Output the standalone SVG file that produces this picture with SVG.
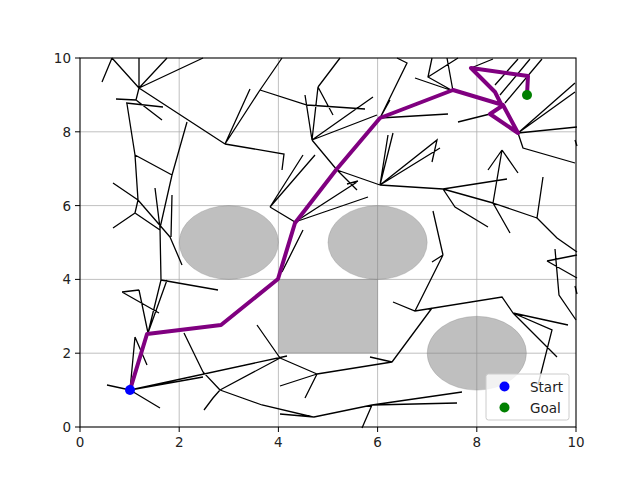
<svg xmlns="http://www.w3.org/2000/svg" width="640" height="480" viewBox="0 0 640 480">
<style>
.grid{stroke:#b0b0b0;stroke-width:0.8;fill:none}
.obs{fill:#808080;fill-opacity:0.5;stroke:#808080;stroke-opacity:0.3;stroke-width:1}
.tree{stroke:#000;stroke-width:1.3;fill:none;stroke-linecap:butt}
.path{stroke:#800080;stroke-width:4;fill:none;stroke-linejoin:round;stroke-linecap:square}
.tick{stroke:#000;stroke-width:1}
.lbl{font-family:"DejaVu Sans",sans-serif;font-size:13.5px;fill:#222}
</style>
<rect width="640" height="480" fill="#fff"/>
<g id="grid" class="grid">
<path d="M179.2 58V427M278.4 58V427M377.6 58V427M476.8 58V427M80 353.2H576M80 279.4H576M80 205.6H576M80 131.8H576"/>
</g>
<g id="obstacles">
<ellipse class="obs" cx="228.8" cy="242.5" rx="49.6" ry="36.9"/>
<ellipse class="obs" cx="377.6" cy="242.5" rx="49.6" ry="36.9"/>
<ellipse class="obs" cx="476.8" cy="353.2" rx="49.6" ry="36.9"/>
<rect class="obs" x="278.4" y="279.4" width="99.2" height="73.8"/>
</g>
<g id="tree" class="tree">
<path d="M112 58L102 82M112 58L139 88M139 58L139 88M167 58L139 88M203 58L139 88M139 88L136 100M116 99L136 100M126 103L163 107M136 100L162 120M139 88L225 144M225 144L284 154L282 170M225 144L250 89M225 144L260 90M260 90L282 58M260 90L307 105L365 109M187 122L172 175M127 104L135 155M135 155L138 200M135 155L172 175M113 183L138 200M138 200L135 213M135 213L113 228M135 213L160 230M138 200L170 237M172 175L160 228M155 188L160 228M172 195L171 237M170 237L182 265M160 228L161 280M161 280L218 290M161 280L148 333M167 280L148 333M122 292L139 290M139 290L148 333M122 292L159 313M135 337L130 390M135 337L147 365M107 385L130 390M130 390L160 408M130 390L203 377M130 390L287 356M184 333L203 372L220 390M220 390L280 358M220 390L262 405L313 417M220 390L213 398L204 410M257 325L280 358M280 358L317 374M317 374L280 386M317 374L305 398M317 374L392 362M392 362L432 308M370 357L392 362M280 414L314 417L372 405M372 405L457 403M372 405L462 392M372 405L362 428M393 302L415 311L502 297L513 313M513 313L568 325M513 313L557 357M513 313L552 330L538 385M555 249L559 295L576 320M337 170L380 185M380 185L443 189M443 189L507 179M443 189L493 203M443 189L455 207L488 227M502 150L493 203M502 150L488 170M502 150L518 173M493 203L510 233M493 203L537 218M543 177L537 218M537 218L557 238L577 252M547 261L577 278M547 261L577 255M433 211L443 255M443 255L432 262M443 255L415 311M397 58L407 63L380 118M432 58L428 77L453 91M428 77L458 58M447 58L453 91M415 78L453 91M458 122L490 114M380 118L448 114M380 118L390 100M471 68L493 59M495 85L518 59M500 95L530 59M505 103L542 59M518 133L575 83M518 133L575 92M518 133L577 127M518 133L523 148L575 163M380 185L393 133M380 185L388 135M380 185L437 140L432 162M380 185L440 148M305 95L312 140M318 87L312 140M318 87L340 58M318 87L333 115M312 140L373 97M312 140L377 115M312 140L337 170M337 170L357 190M347 184L358 181M270 207L303 155M270 207L315 155M270 207L295 222L357 182M295 222L368 197M303 230L282 272M575 140L577 146M575 286L577 294"/>
</g>
<g id="route">
<polyline class="path" points="130,390 147,334 221,325 278,279 295,223 336,170 380,118 453,90 503,105 518,133 490,114 502,106 495,92 471,68 528,76 527,95"/>
</g>
<g id="start"><circle cx="130" cy="390" r="5" fill="#0000ff"/></g>
<g id="goal"><circle cx="527" cy="95" r="5" fill="#008000"/></g>
<g id="axes">
<rect x="80" y="58" width="496" height="369" fill="none" stroke="#000" stroke-width="1.1"/>
<path class="tick" d="M80 427v5M179.2 427v5M278.4 427v5M377.6 427v5M476.8 427v5M576 427v5M80 427h-5M80 353.2h-5M80 279.4h-5M80 205.6h-5M80 131.8h-5M80 58h-5"/>
<g class="lbl" text-anchor="middle">
<text x="80" y="447">0</text><text x="179.2" y="447">2</text><text x="278.4" y="447">4</text><text x="377.6" y="447">6</text><text x="476.8" y="447">8</text><text x="576" y="447">10</text>
</g>
<g class="lbl" text-anchor="end">
<text x="71" y="432">0</text><text x="71" y="358.2">2</text><text x="71" y="284.4">4</text><text x="71" y="210.6">6</text><text x="71" y="136.8">8</text><text x="71" y="63">10</text>
</g>
</g>
<g id="legend">
<rect x="486" y="374" width="83" height="46" rx="2.5" fill="#fff" fill-opacity="0.8" stroke="#cccccc" stroke-width="1"/>
<circle cx="504.5" cy="386.5" r="5" fill="#0000ff"/>
<circle cx="504.5" cy="407.5" r="5" fill="#008000"/>
<text class="lbl" x="530" y="391.5">Start</text>
<text class="lbl" x="530" y="412.5">Goal</text>
</g>
</svg>
